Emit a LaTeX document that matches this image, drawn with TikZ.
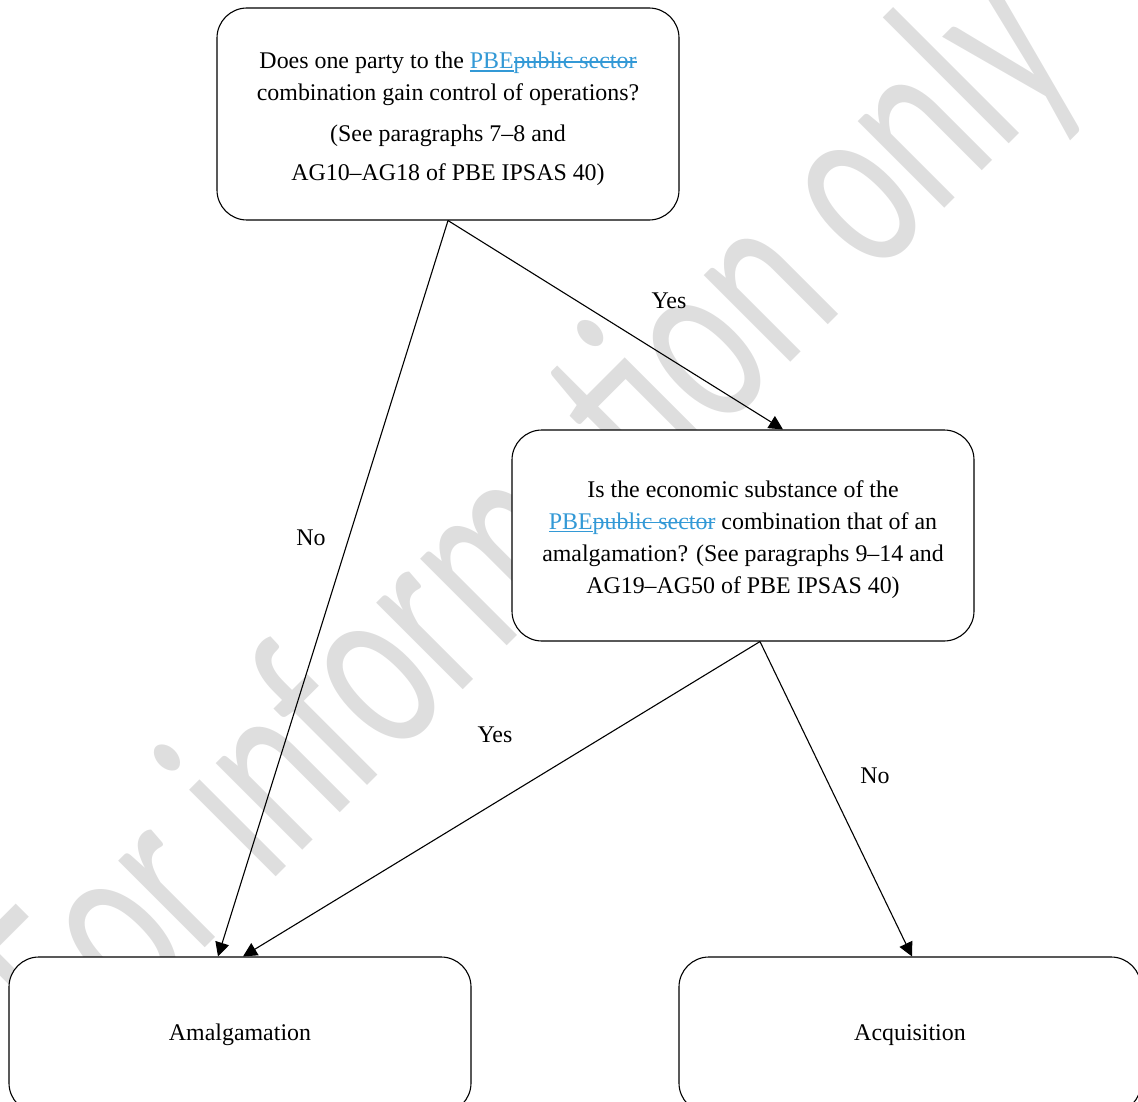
\documentclass[tikz,border=0pt]{standalone}
\usepackage{fontspec}
\setmainfont{Liberation Serif}
\newfontfamily\wmfont{Carlito}
\usetikzlibrary{arrows.meta,calc}
\definecolor{pbeblue}{RGB}{51,153,214}
\definecolor{wmgray}{RGB}{222,222,222}
\newsavebox{\mylinebox}
\newcommand{\myunder}[1]{\sbox{\mylinebox}{#1}\rlap{\raisebox{-0.13em}{\rule{\wd\mylinebox}{1.6pt}}}\usebox{\mylinebox}}
\newcommand{\mystrike}[1]{\sbox{\mylinebox}{#1}\rlap{\raisebox{0.24em}{\rule{\wd\mylinebox}{1.4pt}}}\usebox{\mylinebox}}
\newcommand{\pbetext}{\textcolor{pbeblue}{\myunder{PBE}\mystrike{public sector}}}
\begin{document}
\begin{tikzpicture}[x=1pt,y=-1pt,
  box/.style={draw, line width=1.1pt, rounded corners=30pt, fill=white,
    minimum width=462pt, align=center, inner sep=0pt,
    font=\fontsize{23.9}{32}\selectfont},
  lab/.style={font=\fontsize{23.9}{32}\selectfont},
  arr/.style={line width=1.1pt, -{Triangle[length=14pt,width=14pt]}},
  wm/.style={font=\wmfont\fontsize{171}{171}\selectfont, text=wmgray,
    inner sep=0pt, anchor=base west, transform shape}]
\useasboundingbox (0,0) rectangle (1138,1102);
\clip (0,0) rectangle (1138,1102);
\begin{scope}[shift={(80,1073)}, rotate=45, yscale=1.5]
  \node[wm] (wm) at (0,0) {For information only};
\end{scope}
\node[box, minimum height=212pt] (q1) at (448,114)
  {\rule{0pt}{26.3pt}Does one party to the \pbetext\\combination gain control of operations?\\[8.5pt](See paragraphs 7--8 and\\[7.5pt]AG10--AG18 of PBE IPSAS 40)};
\node[box, minimum height=211pt] (q2) at (743,535.5)
  {\rule{0pt}{24.3pt}Is the economic substance of the\\\pbetext{} combination that of an\\amalgamation? (See paragraphs 9--14 and\\AG19--AG50 of PBE IPSAS 40)};
\node[box, minimum height=156pt] (amal) at (240,1035) {Amalgamation};
\node[box, minimum height=156pt] (acq) at (910,1035) {Acquisition};
\draw[arr] (q1.south) -- ([xshift=-22pt]amal.north);
\draw[arr] (q1.south) -- ([xshift=40pt]q2.north);
\draw[arr] ([xshift=17pt]q2.south) -- ([xshift=3pt]amal.north);
\draw[arr] ([xshift=17pt]q2.south) -- ([xshift=2pt]acq.north);
\node[lab] (l1) at (669,301) {Yes};
\node[lab] (l2) at (311,538) {No};
\node[lab] (l3) at (495,735) {Yes};
\node[lab] (l4) at (875,776) {No};
\end{tikzpicture}
\end{document}
